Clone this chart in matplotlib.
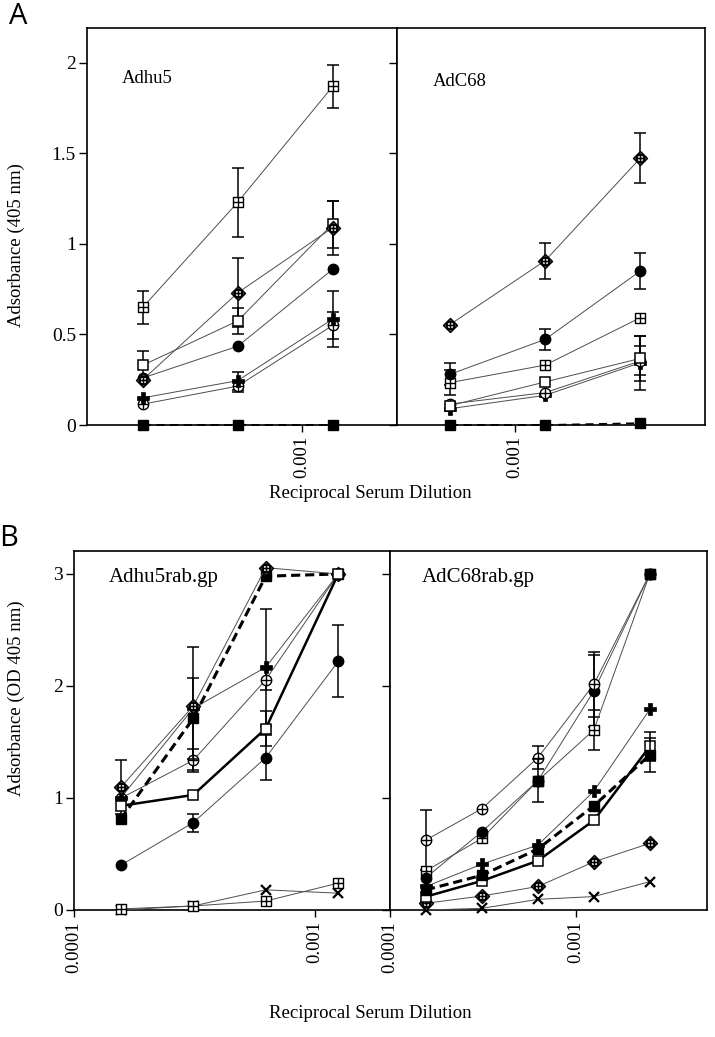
import numpy as np
import matplotlib
matplotlib.use('Agg')
import matplotlib.pyplot as plt
from matplotlib.path import Path

plt.rcParams['font.family'] = ['Liberation Serif', 'DejaVu Serif']

# ---------------- data ----------------
xA_hu5 = [1/3200, 1/1600, 1/800]
xA_c68 = [1/1600, 1/800, 1/400]
xB_hu5 = [1/6400, 1/3200, 1/1600, 1/800]
xB_c68 = [1/6400, 1/3200, 1/1600, 1/800, 1/400]

# Panel A, Adhu5
A1_sqfill = [0.0, 0.0, 0.0]
A1_oplus = [0.115, 0.215, 0.55]
A1_oplus_err = [0, 0.03, 0.075]
A1_pfill = [0.15, 0.245, 0.585]
A1_pfill_err = [0, 0.05, 0.155]
A1_dot = [0.26, 0.435, 0.86]
A1_dplus = [0.25, 0.73, 1.09]
A1_dplus_err = [0, 0.19, 0.15]
A1_sqopen = [0.33, 0.575, 1.11]
A1_sqopen_err = [0.08, 0.07, 0.13]
A1_sqplus = [0.65, 1.23, 1.87]
A1_sqplus_err = [0.09, 0.19, 0.12]

# Panel A, AdC68
A2_sqfill = [0.0, 0.0, 0.01]
A2_pfill = [0.09, 0.164, 0.344]
A2_pfill_err = [0, 0, 0.15]
A2_oplus = [0.116, 0.179, 0.354]
A2_oplus_err = [0, 0, 0.08]
A2_sqopen = [0.107, 0.238, 0.368]
A2_sqopen_err = [0, 0, 0.125]
A2_sqplus = [0.234, 0.331, 0.593]
A2_sqplus_err = [0.07, 0, 0]
A2_dot = [0.28, 0.473, 0.851]
A2_dot_err = [0.06, 0.06, 0.10]
A2_dplus = [0.555, 0.908, 1.475]
A2_dplus_err = [0, 0.10, 0.14]

# Panel B, Adhu5rab.gp
B1_cross = [0.0, 0.036, 0.18, 0.15]
B1_sqplus = [0.01, 0.036, 0.08, 0.24]
B1_dot = [0.40, 0.78, 1.36, 2.22]
B1_dot_err = [0, 0.08, 0.20, 0.32]
B1_oplus = [0.997, 1.336, 2.054, 3.0]
B1_oplus_err = [0, 0.10, 0.09, 0]
B1_pfill = [1.0, 1.80, 2.167, 3.0]
B1_pfill_err = [0, 0.55, 0.52, 0]
B1_dplus = [1.095, 1.82, 3.056, 3.0]
B1_dplus_err = [0.24, 0, 0, 0]
B1_sqfill = [0.81, 1.71, 2.98, 3.0]
B1_sqfill_err = [0, 0.36, 0, 0]
B1_sqopen = [0.93, 1.027, 1.62, 3.0]
B1_sqopen_err = [0, 0, 0.16, 0]

# Panel B, AdC68rab.gp
B2_cross = [0.0, 0.015, 0.095, 0.12, 0.253]
B2_dplus = [0.06, 0.125, 0.21, 0.43, 0.595]
B2_pfill = [0.21, 0.41, 0.58, 1.06, 1.79]
B2_sqplus = [0.35, 0.64, 1.155, 1.607, 3.0]
B2_sqplus_err = [0, 0, 0, 0.18, 0]
B2_dot = [0.29, 0.70, 1.155, 1.955, 3.0]
B2_dot_err = [0, 0, 0, 0.32, 0]
B2_oplus = [0.625, 0.905, 1.36, 2.015, 3.0]
B2_oplus_err = [0.27, 0, 0.10, 0.29, 0]
B2_sqmark = [np.nan, np.nan, 1.155, np.nan, 3.0]
B2_sqmark_err = [0, 0, 0.19, 0, 0]
B2_sqfill = [0.18, 0.31, 0.545, 0.93, 1.384]
B2_sqfill_err = [0, 0, 0, 0, 0.15]
B2_sqopen = [0.12, 0.26, 0.44, 0.80, 1.46]
B2_sqopen_err = [0, 0, 0, 0, 0.13]

# ---------------- marker shapes ----------------
M, L, C = Path.MOVETO, Path.LINETO, Path.CLOSEPOLY
cross_path = Path([(0, -1), (0, 1), (-1, 0), (1, 0)], [M, L, M, L])
SQPLUS = Path.make_compound_path(
    Path([(-1, -1), (1, -1), (1, 1), (-1, 1), (-1, -1)], [M, L, L, L, C]), cross_path)
uc = Path.unit_circle()
OPLUS = Path.make_compound_path(uc, cross_path)
inner = Path(uc.vertices * 0.55, uc.codes)
DPLUS = Path.make_compound_path(
    Path([(0, -1), (1, 0), (0, 1), (-1, 0), (0, -1)], [M, L, L, L, C]), inner,
    Path([(0, -0.75), (0, 0.75), (-0.75, 0), (0.75, 0)], [M, L, M, L]))

MK = {
    'sqplus': dict(marker=SQPLUS, ms=7.5, mfc='white', mec='k', mew=1.0),
    'sqopen': dict(marker='s', ms=7.5, mfc='white', mec='k', mew=1.1),
    'dplus': dict(marker=DPLUS, ms=10, mfc='white', mec='k', mew=1.1),
    'dot': dict(marker='o', ms=7.5, mfc='k', mec='k', mew=1.0),
    'pfill': dict(marker='P', ms=8, mfc='k', mec='k', mew=0.5),
    'oplus': dict(marker=OPLUS, ms=7.5, mfc='white', mec='k', mew=1.0),
    'sqfill': dict(marker='s', ms=7.5, mfc='k', mec='k', mew=1.0),
    'cross': dict(marker='x', ms=7.5, mfc='k', mec='k', mew=1.6),
}
LS = {
    'thin': dict(color='0.3', lw=0.7, ls='-'),
    'bold': dict(color='k', lw=1.8, ls='-'),
    'dash': dict(color='k', lw=2.2, ls=(0, (3.0, 1.6))),
    'dashA': dict(color='k', lw=1.3, ls=(0, (4.5, 3.0))),
    'none': dict(color='k', lw=0, ls='none'),
}


def series(ax, x, y, kind, line='thin', err=None, z=3):
    x = np.asarray(x, float)
    y = np.asarray(y, float)
    if err is not None:
        e = np.asarray(err, float)
        m = (e > 0) & np.isfinite(y)
        if m.any():
            ax.errorbar(x[m], y[m], yerr=e[m], fmt='none', ecolor='k',
                        elinewidth=1.1, capsize=4, capthick=1.1,
                        zorder=z - 0.5, clip_on=False)
    ax.plot(x, y, **LS[line], zorder=z, clip_on=False)
    ax.plot(x, y, ls='none', **MK[kind], zorder=z + 0.2, clip_on=False)


W, H = 715, 1037
fig = plt.figure(figsize=(W / 100, H / 100), dpi=100)

axA1 = fig.add_axes([87 / W, 1 - 425 / H, 310 / W, 397 / H])
axA2 = fig.add_axes([397 / W, 1 - 425 / H, 308 / W, 397 / H])
axB1 = fig.add_axes([74 / W, 1 - 910 / H, 316 / W, 359 / H])
axB2 = fig.add_axes([390 / W, 1 - 910 / H, 317 / W, 359 / H])

# Panel A left
series(axA1, xA_hu5, A1_sqfill, 'sqfill', 'dashA')
series(axA1, xA_hu5, A1_oplus, 'oplus', err=A1_oplus_err)
series(axA1, xA_hu5, A1_pfill, 'pfill', err=A1_pfill_err)
series(axA1, xA_hu5, A1_dot, 'dot')
series(axA1, xA_hu5, A1_sqopen, 'sqopen', err=A1_sqopen_err)
series(axA1, xA_hu5, A1_dplus, 'dplus', err=A1_dplus_err)
series(axA1, xA_hu5, A1_sqplus, 'sqplus', err=A1_sqplus_err)

# Panel A right
series(axA2, xA_c68, A2_sqfill, 'sqfill', 'dashA')
series(axA2, xA_c68, A2_pfill, 'pfill', err=A2_pfill_err)
series(axA2, xA_c68, A2_oplus, 'oplus', err=A2_oplus_err)
series(axA2, xA_c68, A2_sqopen, 'sqopen', err=A2_sqopen_err)
series(axA2, xA_c68, A2_sqplus, 'sqplus', err=A2_sqplus_err)
series(axA2, xA_c68, A2_dot, 'dot', err=A2_dot_err)
series(axA2, xA_c68, A2_dplus, 'dplus', err=A2_dplus_err)

# Panel B left
series(axB1, xB_hu5, B1_cross, 'cross')
series(axB1, xB_hu5, B1_sqplus, 'sqplus')
series(axB1, xB_hu5, B1_dot, 'dot', err=B1_dot_err)
series(axB1, xB_hu5, B1_oplus, 'oplus', err=B1_oplus_err)
series(axB1, xB_hu5, B1_pfill, 'pfill', err=B1_pfill_err)
series(axB1, xB_hu5, B1_sqfill, 'sqfill', 'dash', err=B1_sqfill_err, z=4)
series(axB1, xB_hu5, B1_dplus, 'dplus', err=B1_dplus_err, z=5)
series(axB1, xB_hu5, B1_sqopen, 'sqopen', 'bold', err=B1_sqopen_err, z=6)

# Panel B right
series(axB2, xB_c68, B2_cross, 'cross')
series(axB2, xB_c68, B2_dplus, 'dplus')
series(axB2, xB_c68, B2_pfill, 'pfill')
series(axB2, xB_c68, B2_sqplus, 'sqplus', err=B2_sqplus_err)
series(axB2, xB_c68, B2_dot, 'dot', err=B2_dot_err)
series(axB2, xB_c68, B2_oplus, 'oplus', err=B2_oplus_err)
series(axB2, xB_c68, B2_sqmark, 'sqfill', 'none', err=B2_sqmark_err, z=4)
series(axB2, xB_c68, B2_sqopen, 'sqopen', 'bold', err=B2_sqopen_err, z=5)
series(axB2, xB_c68, B2_sqfill, 'sqfill', 'dash', err=B2_sqfill_err, z=6)

# axes formatting
for ax, xl in [(axA1, (2.08e-4, 2.0e-3)), (axA2, (4.25e-4, 4.0e-3)),
               (axB1, (1.0e-4, 2.05e-3)), (axB2, (1.0e-4, 5.08e-3))]:
    ax.set_xscale('log')
    ax.set_xlim(*xl)
    for s in ax.spines.values():
        s.set_linewidth(1.2)
    ax.tick_params(axis='both', direction='out', width=1.0, top=False, right=False)
    ax.tick_params(axis='y', length=6, labelsize=14, pad=2)
    ax.tick_params(axis='x', length=5, labelsize=13.5, pad=3)

for ax in (axA1, axA2):
    ax.set_ylim(0, 2.193)
    ax.set_yticks([0, 0.5, 1, 1.5, 2])
    ax.set_yticklabels(['0', '0.5', '1', '1.5', '2'])
    ax.set_xticks([1e-3])
    ax.set_xticklabels(['0.001'], rotation=90)
for ax in (axB1, axB2):
    ax.set_ylim(0, 3.205)
    ax.set_yticks([0, 1, 2, 3])
    ax.set_yticklabels(['0', '1', '2', '3'])
    ax.set_xticks([1e-4, 1e-3])
    ax.set_xticklabels(['0.0001', '0.001'], rotation=90)
for ax in (axA2, axB2):
    ax.tick_params(axis='y', labelleft=False)
for ax in (axA1, axA2, axB1, axB2):
    ax.xaxis.set_minor_locator(matplotlib.ticker.NullLocator())

axA1.text(0.113, 0.861, 'Adhu5', transform=axA1.transAxes, fontsize=13.5, va='baseline')
axA2.text(0.117, 0.854, 'AdC68', transform=axA2.transAxes, fontsize=13.5, va='baseline')
axB1.text(0.111, 0.914, 'Adhu5rab.gp', transform=axB1.transAxes, fontsize=15, va='baseline')
axB2.text(0.101, 0.914, 'AdC68rab.gp', transform=axB2.transAxes, fontsize=15, va='baseline')

fig.text(370 / W, 1 - 493 / H, 'Reciprocal Serum Dilution', ha='center', va='center', fontsize=13.5)
fig.text(370 / W, 1 - 1013 / H, 'Reciprocal Serum Dilution', ha='center', va='center', fontsize=13.5)
fig.text(16 / W, 1 - 245 / H, 'Adsorbance (405 nm)', rotation=90, ha='center', va='center', fontsize=13.5)
fig.text(16 / W, 1 - 698 / H, 'Adsorbance (OD 405 nm)', rotation=90, ha='center', va='center', fontsize=13.5)

fig.text(18 / W, 1 - 17 / H, 'A', ha='center', va='center', fontsize=21, family='Open Sans', weight='medium')
fig.text(9 / W, 1 - 539 / H, 'B', ha='center', va='center', fontsize=21, family='Open Sans', weight='medium')

fig.savefig('out.png', dpi=100)
